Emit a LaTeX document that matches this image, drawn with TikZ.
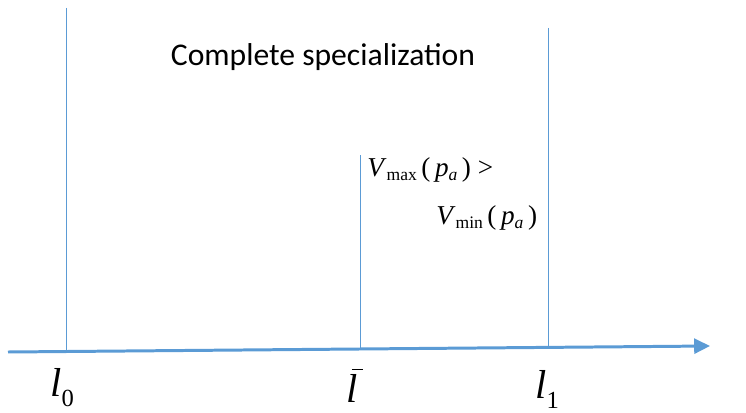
\documentclass[tikz,border=0pt]{standalone}
\usepackage{fontspec}
\setmainfont{Carlito}
\newfontfamily\tms{Liberation Serif}
\usetikzlibrary{arrows.meta,positioning}
\definecolor{axiscolor}{RGB}{91,155,213}
\tikzset{
  axis line/.style={draw=axiscolor, line width=1.7pt, -{Triangle[length=9pt,width=8.5pt]}},
  bound line/.style={draw=axiscolor, line width=0.5pt},
  point label/.style={font=\tms\fontsize{23}{25}\selectfont, inner sep=0pt, anchor=base west},
  cond label/.style={font=\tms\fontsize{15.5}{17}\selectfont, inner sep=0pt, anchor=base west},
  title label/.style={font=\fontsize{18}{20}\selectfont, inner sep=0pt}
}
\newcommand{\subx}[1]{\raisebox{-0.35ex}{\fontsize{10}{11}\selectfont #1}}
\newcommand{\subl}[1]{\raisebox{-0.55ex}{\fontsize{14}{15}\selectfont #1}}
\newcommand{\barl}{\rlap{\hspace{3.2pt}\raisebox{0.78em}{\rule{6pt}{0.9pt}}}\textit{l}}

\begin{document}
\begin{tikzpicture}[x=0.02cm, y=-0.02cm]
  \useasboundingbox (0,0) rectangle (746,412);

  % Axis
  \coordinate (start) at (8,352);
  \coordinate (end) at (710,346);
  \draw[axis line] (start) -- (end);

  % Boundaries
  \coordinate (l0top) at (66,8);
  \coordinate (l0bot) at (66,352);
  \coordinate (lbtop) at (360,155);
  \coordinate (lbbot) at (360,349);
  \coordinate (l1top) at (548,28);
  \coordinate (l1bot) at (548,347);
  \draw[bound line] (l0top) -- (l0bot);
  \draw[bound line] (lbtop) -- (lbbot);
  \draw[bound line] (l1top) -- (l1bot);

  % Labels
  \node[point label] (l0) at (50,396) {\textit{l}\subl{0}};
  \node[point label] (lbar) at (346,402) {\barl};
  \node[point label] (l1) at (535,398) {\textit{l}\subl{1}};
  \node[title label] (title) at (323,57) {Complete specialization};
  \node[cond label] (vmax) at (367,176) {\textit{V}\subx{max}\,(\,\textit{p}\subx{\textit{a}}\,) \textgreater};
  \node[cond label] (vmin) at (436,224) {\textit{V}\subx{min}\,(\,\textit{p}\subx{\textit{a}}\,)};
\end{tikzpicture}
\end{document}
